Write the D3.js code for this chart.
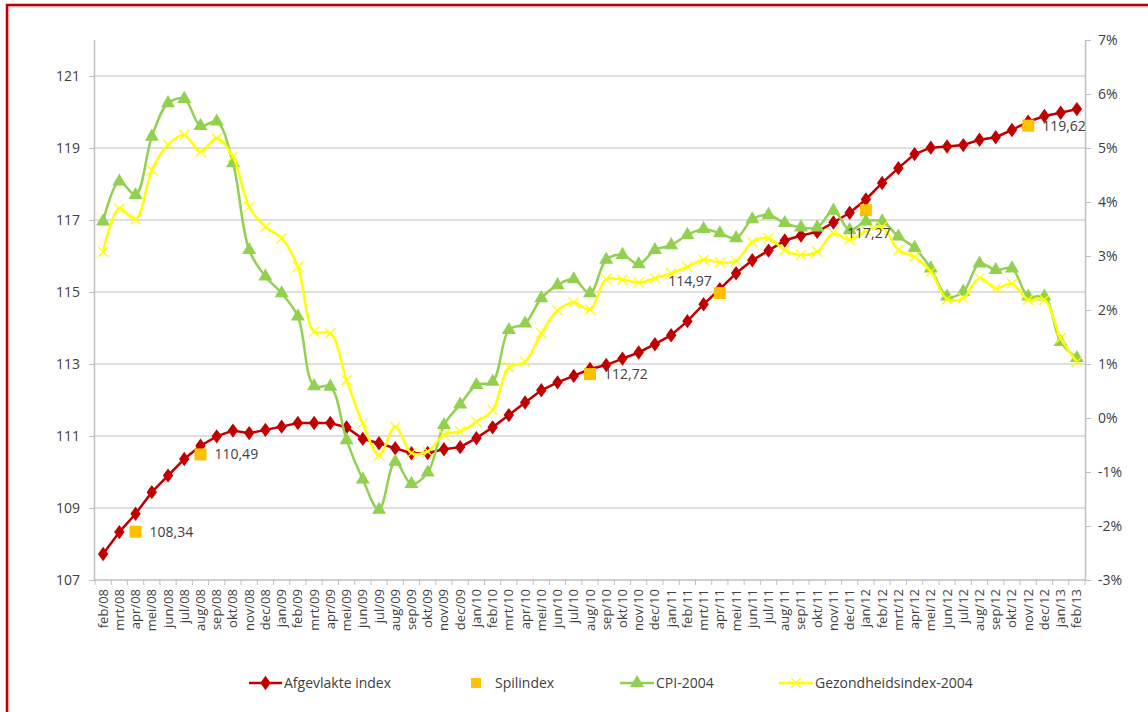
<!DOCTYPE html>
<html>
<head>
<meta charset="utf-8">
<script src="https://cdn.jsdelivr.net/npm/d3@7"></script>
<style>
  html, body { margin: 0; padding: 0; background: #fff; }
  svg { display: block; }
  text { font-family: "Open Sans", "Noto Sans", sans-serif; fill: #404040; }
</style>
</head>
<body>
<script>
// ---------- DATA ----------
const months = ["feb/08","mrt/08","apr/08","mei/08","jun/08","jul/08","aug/08","sep/08","okt/08","nov/08","dec/08",
  "jan/09","feb/09","mrt/09","apr/09","mei/09","jun/09","jul/09","aug/09","sep/09","okt/09","nov/09","dec/09",
  "jan/10","feb/10","mrt/10","apr/10","mei/10","jun/10","jul/10","aug/10","sep/10","okt/10","nov/10","dec/10",
  "jan/11","feb/11","mrt/11","apr/11","mei/11","jun/11","jul/11","aug/11","sep/11","okt/11","nov/11","dec/11",
  "jan/12","feb/12","mrt/12","apr/12","mei/12","jun/12","jul/12","aug/12","sep/12","okt/12","nov/12","dec/12",
  "jan/13","feb/13"];

// Afgevlakte index (left axis)
const afgevlakte = [107.72,108.33,108.84,109.44,109.90,110.36,110.73,110.99,111.15,111.08,111.17,
  111.26,111.36,111.36,111.36,111.24,110.92,110.80,110.66,110.52,110.53,110.63,110.69,
  110.94,111.24,111.58,111.93,112.27,112.49,112.67,112.86,112.97,113.15,113.32,113.55,
  113.80,114.19,114.66,115.08,115.52,115.88,116.15,116.43,116.57,116.67,116.93,117.20,
  117.57,118.03,118.44,118.83,119.01,119.04,119.08,119.23,119.30,119.50,119.73,119.89,
  119.98,120.08];

// Spilindex (left axis), only at some months
const spilMonths = ["apr/08","aug/08","aug/10","apr/11","jan/12","nov/12"];
const spilValues = [108.34,110.49,112.72,114.97,117.27,119.62];
const spilLabels = ["108,34","110,49","112,72","114,97","117,27","119,62"];
const spilLabelPlacement = ["right","right","right","aboveleft","below","right"];

// CPI-2004 (right axis, %)
const cpi = [3.64,4.38,4.13,5.21,5.83,5.91,5.41,5.49,4.72,3.11,2.62,
  2.31,1.88,0.59,0.58,-0.41,-1.14,-1.70,-0.81,-1.22,-1.01,-0.13,0.25,
  0.61,0.67,1.63,1.75,2.22,2.46,2.57,2.31,2.93,3.02,2.85,3.11,
  3.20,3.39,3.50,3.42,3.33,3.68,3.76,3.61,3.53,3.53,3.84,3.48,
  3.64,3.64,3.36,3.15,2.77,2.25,2.34,2.86,2.74,2.77,2.25,2.25,
  1.41,1.11];

// Gezondheidsindex-2004 (right axis, %)
const gezondheid = [3.08,3.88,3.68,4.59,5.06,5.24,4.93,5.18,4.84,3.91,3.54,
  3.33,2.80,1.60,1.57,0.70,-0.10,-0.69,-0.16,-0.65,-0.62,-0.31,-0.25,
  -0.07,0.15,0.94,1.04,1.57,1.99,2.14,2.01,2.57,2.56,2.51,2.59,
  2.68,2.80,2.93,2.88,2.91,3.26,3.33,3.11,3.02,3.08,3.42,3.30,
  3.47,3.54,3.11,2.98,2.71,2.20,2.22,2.59,2.40,2.49,2.19,2.19,
  1.48,1.04];

const leftTicks = [107,109,111,113,115,117,119,121];
const rightTicks = [-3,-2,-1,0,1,2,3,4,5,6,7];
const seriesNames = ["Afgevlakte index","Spilindex","CPI-2004","Gezondheidsindex-2004"];

// ---------- CHART ----------
const W = 1148, H = 712;
const plot = {left: 95, right: 1085, top: 40, bottom: 580};
const C = {red: "#c00000", orange: "#ffc000", green: "#92d050", yellow: "#ffff00",
           grid: "#d4d4d4", axis: "#bfbfbf"};

const svg = d3.select("body").append("svg").attr("width", W).attr("height", H);

// outer border
svg.append("rect").attr("x", 9).attr("y", 7).attr("width", W).attr("height", H)
  .attr("fill", "none").attr("stroke", "#c8c8c8").attr("stroke-width", 1);
svg.append("path").attr("d", `M7,${H} L7,5 L${W},5`)
  .attr("fill", "none").attr("stroke", C.red).attr("stroke-width", 2.5);

const x = d3.scalePoint().domain(months).range([plot.left, plot.right]).padding(0.5);
const step = x.step();
const yL = d3.scaleLinear().domain([107, 122]).range([plot.bottom, plot.top]);
const yR = d3.scaleLinear().domain([-3, 7]).range([plot.bottom, plot.top]);

// gridlines
svg.append("g").selectAll("line").data(leftTicks.filter(d => d > 107)).join("line")
  .attr("x1", plot.left).attr("x2", plot.right)
  .attr("y1", d => yL(d)).attr("y2", d => yL(d))
  .attr("stroke", C.grid).attr("stroke-width", 1.6);

// left axis
const gL = svg.append("g").attr("transform", `translate(${plot.left},0)`)
  .call(d3.axisLeft(yL).tickValues(leftTicks).tickSize(6).tickPadding(9).tickFormat(d => d));
gL.select(".domain").attr("stroke", C.axis).attr("d", `M-0.5,${plot.top}V${plot.bottom}`).attr("stroke-width", 1.5);
gL.selectAll(".tick line").attr("stroke", C.axis);
gL.selectAll(".tick text").attr("font-size", 14).attr("fill", "#404040")
  .style("font-family", "'Open Sans', sans-serif");

// right axis
const gR = svg.append("g").attr("transform", `translate(${plot.right},0)`)
  .call(d3.axisRight(yR).tickValues(rightTicks).tickSize(6).tickPadding(7).tickFormat(d => d + "%"));
gR.select(".domain").attr("stroke", C.axis).attr("d", `M0.5,${plot.top}V${plot.bottom}`).attr("stroke-width", 1.5);
gR.selectAll(".tick line").attr("stroke", C.axis);
gR.selectAll(".tick text").attr("font-size", 14).attr("fill", "#404040")
  .style("font-family", "'Open Sans', sans-serif");

// bottom axis
const gB = svg.append("g").attr("transform", `translate(0,${plot.bottom})`);
gB.append("line").attr("x1", plot.left).attr("x2", plot.right).attr("y1", 0).attr("y2", 0)
  .attr("stroke", C.axis).attr("stroke-width", 1.5);
gB.selectAll("line.tk").data(d3.range(months.length + 1)).join("line").attr("class", "tk")
  .attr("x1", i => plot.left + i * step).attr("x2", i => plot.left + i * step)
  .attr("y1", 0).attr("y2", 5).attr("stroke", C.axis);
gB.selectAll("text").data(months).join("text")
  .attr("transform", d => `translate(${x(d) + 4.5},${9}) rotate(-90)`)
  .attr("text-anchor", "end").attr("font-size", 13).attr("fill", "#262626")
  .text(d => d);

// lines
const lineL = d3.line().x((d, i) => x(months[i])).y(d => yL(d));
const lineR = d3.line().x((d, i) => x(months[i])).y(d => yR(d)).curve(d3.curveCatmullRom.alpha(0.5));

// red series
svg.append("path").datum(afgevlakte).attr("d", lineL)
  .attr("fill", "none").attr("stroke", C.red).attr("stroke-width", 2.5);
const diamond = d3.symbol().type(d3.symbolDiamond).size(60);
svg.append("g").selectAll("path").data(afgevlakte).join("path")
  .attr("d", diamond)
  .attr("transform", (d, i) => `translate(${x(months[i])},${yL(d)}) scale(1.25,1)`)
  .attr("fill", C.red);

// spilindex
const spilG = svg.append("g");
spilG.selectAll("rect").data(spilValues).join("rect")
  .attr("x", (d, i) => x(spilMonths[i]) - 6).attr("y", d => yL(d) - 6)
  .attr("width", 12).attr("height", 12).attr("fill", C.orange);

// green series
svg.append("path").datum(cpi).attr("d", lineR)
  .attr("fill", "none").attr("stroke", C.green).attr("stroke-width", 2.5);
const tri = d3.symbol().type(d3.symbolTriangle).size(85);
svg.append("g").selectAll("path").data(cpi).join("path")
  .attr("d", tri)
  .attr("transform", (d, i) => `translate(${x(months[i])},${yR(d)})`)
  .attr("fill", C.green);

// yellow series
svg.append("path").datum(gezondheid).attr("d", lineR)
  .attr("fill", "none").attr("stroke", C.yellow).attr("stroke-width", 2.5);
svg.append("g").selectAll("path").data(gezondheid).join("path")
  .attr("d", "M-5,-5L5,5M-5,5L5,-5")
  .attr("transform", (d, i) => `translate(${x(months[i])},${yR(d)})`)
  .attr("stroke", C.yellow).attr("stroke-width", 1.3).attr("fill", "none");

// spilindex labels
const place = {
  right: {dx: 14, dy: 5, anchor: "start"},
  aboveleft: {dx: -8, dy: -7, anchor: "end"},
  below: {dx: 3, dy: 28, anchor: "middle"}
};
svg.append("g").selectAll("text").data(spilLabels).join("text")
  .attr("x", (d, i) => x(spilMonths[i]) + place[spilLabelPlacement[i]].dx)
  .attr("y", (d, i) => yL(spilValues[i]) + place[spilLabelPlacement[i]].dy)
  .attr("text-anchor", (d, i) => place[spilLabelPlacement[i]].anchor)
  .attr("font-size", 14).attr("fill", "#404040")
  .text(d => d);

// legend
const legY = 683;
const leg = svg.append("g");
// red
leg.append("line").attr("x1", 249).attr("x2", 282).attr("y1", legY).attr("y2", legY)
  .attr("stroke", C.red).attr("stroke-width", 2.5);
leg.append("path").attr("d", diamond).attr("transform", `translate(265.5,${legY}) scale(1.25,1)`).attr("fill", C.red);
leg.append("text").attr("x", 284).attr("y", legY + 5).attr("font-size", 14).text(seriesNames[0]);
// orange
leg.append("rect").attr("x", 471).attr("y", legY - 5).attr("width", 10).attr("height", 10).attr("fill", C.orange);
leg.append("text").attr("x", 495).attr("y", legY + 5).attr("font-size", 14).text(seriesNames[1]);
// green
leg.append("line").attr("x1", 620).attr("x2", 654).attr("y1", legY).attr("y2", legY)
  .attr("stroke", C.green).attr("stroke-width", 2.5);
leg.append("path").attr("d", tri).attr("transform", `translate(637,${legY})`).attr("fill", C.green);
leg.append("text").attr("x", 656).attr("y", legY + 5).attr("font-size", 14).text(seriesNames[2]);
// yellow
leg.append("line").attr("x1", 779).attr("x2", 813).attr("y1", legY).attr("y2", legY)
  .attr("stroke", C.yellow).attr("stroke-width", 2.5);
leg.append("path").attr("d", "M-5,-5L5,5M-5,5L5,-5").attr("transform", `translate(796,${legY})`)
  .attr("stroke", C.yellow).attr("stroke-width", 1.3);
leg.append("text").attr("x", 815).attr("y", legY + 5).attr("font-size", 14).text(seriesNames[3]);
</script>
</body>
</html>
